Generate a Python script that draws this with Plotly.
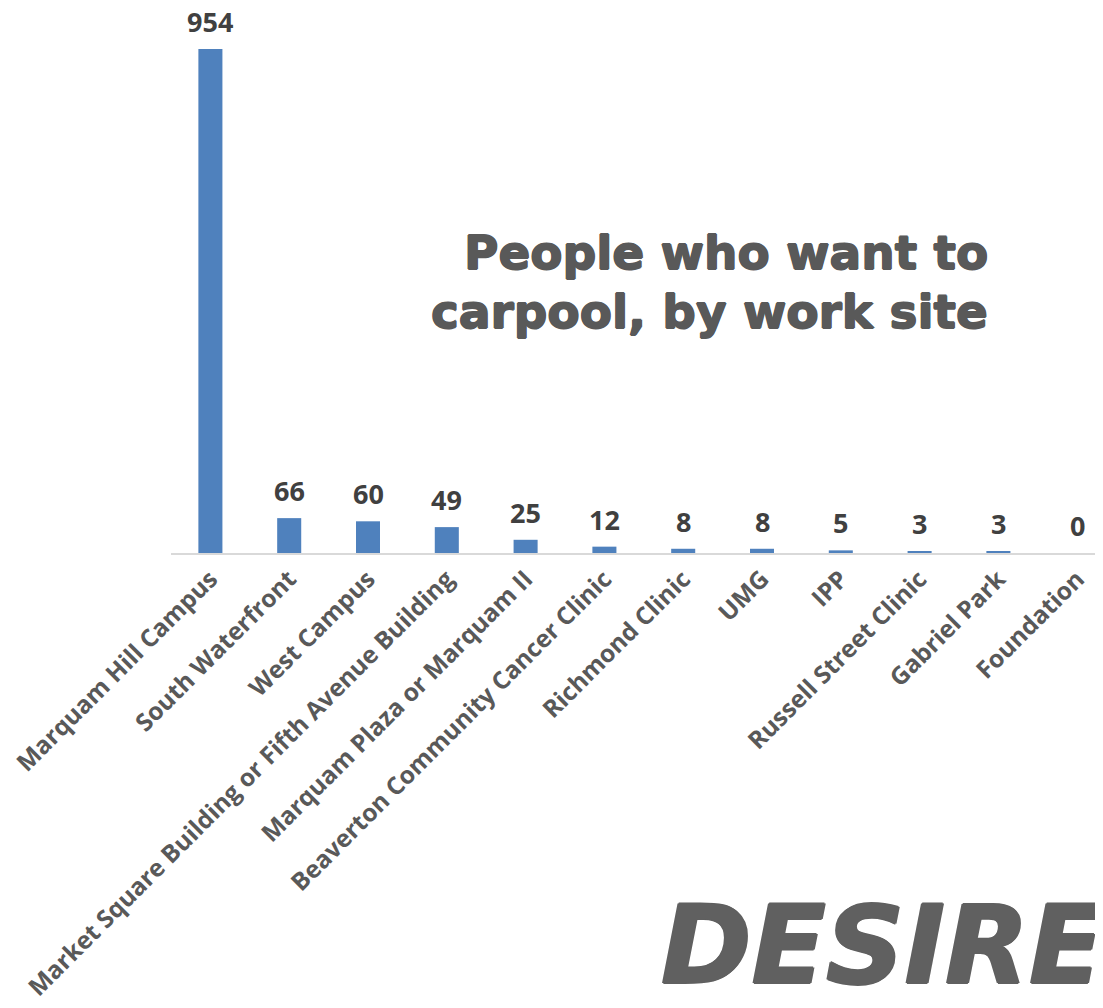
import plotly.graph_objects as go

sites = ["Marquam Hill Campus", "South Waterfront", "West Campus",
         "Market Square Building or Fifth Avenue Building",
         "Marquam Plaza or Marquam II", "Beaverton Community Cancer Clinic",
         "Richmond Clinic", "UMG", "IPP", "Russell Street Clinic",
         "Gabriel Park", "Foundation"]
counts = [954, 66, 60, 49, 25, 12, 8, 8, 5, 3, 3, 0]

title_lines = ["People who want to", "carpool, by work site"]
brand_text = "DESIRES"

# page is offset 8px by the browser body margin
OFF = 8
W, H = 1103, 1008
L, R, T, B = 171 - OFF, OFF, 0, 1008 - (553 - OFF)
cat_px = 78.8
px_per_unit = 504 / 954

plot_w = W - L - R
plot_h = H - T - B


def px_x(p):
    return (p - OFF - L) / plot_w


def px_y(p):
    return 1 - (p - OFF - T) / plot_h


def heavy(c, d=0.7):
    return ", ".join(f"{dx}px {dy}px 0 {c}" for dx, dy in
                     [(d, 0), (-d, 0), (0, d), (0, -d)])


fig = go.Figure()
fig.add_trace(go.Bar(
    x=list(range(len(sites))), y=counts,
    marker=dict(color="#4f81bd", line=dict(width=0)),
    width=0.305, cliponaxis=False, hoverinfo="skip",
))

anns = []
for i, v in enumerate(counts):
    anns.append(dict(x=i, y=v, text=f"<b>{v}</b>", showarrow=False,
                     xref="x", yref="y", yanchor="bottom", yshift=8,
                     borderpad=0,
                     font=dict(family="Open Sans", size=27, color="#404040")))

for line, yc in zip(title_lines, [253, 311]):
    anns.append(dict(text=f"<b>{line}</b>", x=px_x(990), y=px_y(yc),
                     xref="paper", yref="paper", showarrow=False,
                     xanchor="right", yanchor="middle",
                     font=dict(family="DejaVu Sans", size=47, color="#595959",
                               shadow=heavy("#595959", 0.8))))

anns.append(dict(text=f"<b><i>{brand_text}</i></b>", x=px_x(659), y=px_y(945),
                 xref="paper", yref="paper", showarrow=False,
                 xanchor="left", yanchor="middle",
                 font=dict(family="DejaVu Sans", size=109, color="#606060",
                           shadow=heavy("#606060", 1.2))))

fig.update_layout(
    width=W, height=H,
    margin=dict(l=L, r=R, t=T, b=B),
    paper_bgcolor="white", plot_bgcolor="white",
    showlegend=False,
    xaxis=dict(
        range=[-0.5, -0.5 + plot_w / cat_px],
        tickmode="array", tickvals=list(range(len(sites))), ticktext=sites,
        tickangle=-45, ticks="", showgrid=False, zeroline=False,
        showline=True, linecolor="#d9d9d9", linewidth=2, automargin=False,
        tickfont=dict(family="Open Sans", size=24.5, color="#595959", weight="bold"),
    ),
    yaxis=dict(range=[0, plot_h / px_per_unit], visible=False,
               showgrid=False, zeroline=False),
    annotations=anns,
)

fig.write_html("out.html")
